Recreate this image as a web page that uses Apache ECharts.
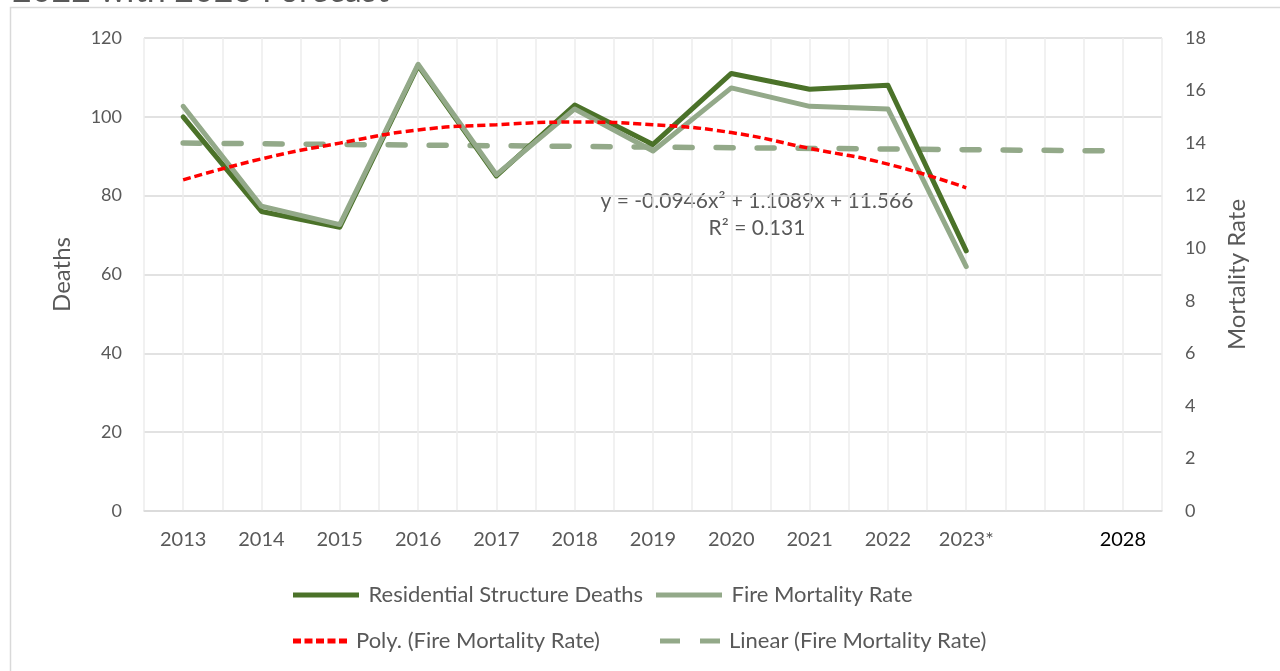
<!DOCTYPE html>
<html>
<head>
<meta charset="utf-8">
<script src="https://cdn.jsdelivr.net/npm/echarts@6/dist/echarts.min.js"></script>
<style>
  html, body { margin: 0; padding: 0; background: #fff; }
  #chart { width: 1280px; height: 671px; }
</style>
</head>
<body>
<div id="chart"></div>
<script>
// categories (blank slot between the forecast year and 2028)
var years = ["2013", "2014", "2015", "2016", "2017", "2018", "2019", "2020", "2021", "2022", "2023*", "", "2028"];
// deaths, left axis
var deaths = [100, 76, 72, 113, 85, 103, 93, 111, 107, 108, 66, null, null];
// fire mortality rate, right axis
var mortality = [15.4, 11.6, 10.9, 17.0, 12.8, 15.3, 13.7, 16.1, 15.4, 15.3, 9.3, null, null];
// trendlines
var polyTrend = [12.6, 13.4, 14.0, 14.5, 14.7, 14.8, 14.7, 14.4, 13.8, 13.2, 12.3, null, null];
var linearTrend = [14.0, null, null, null, null, null, null, null, null, null, null, null, 13.7];
// half-category slots, used only for the vertical gridlines
var halfSlots = [];
for (var i = 0; i < years.length * 2; i++) halfSlots.push("");

var font = "Lato, 'Open Sans', sans-serif";
var grey = "#595959";
var darkGreen = "#4b7229";
var lightGreen = "#93a989";

// legend icons drawn as filled paths (solid bar, short dashes, long dashes)
var solidIcon = "path://M0,0h66v5h-66z";
var dotIcon = "path://M0,0h8v5h-8zM11.5,0h8v5h-8zM23,0h8v5h-8zM34.5,0h8v5h-8zM46,0h8v5h-8z";
var dashIcon = "path://M0,0h20v5h-20zM40,0h20v5h-20z";

function legendItem(name, left, top, width, icon, color) {
  return {
    left: left,
    top: top,
    padding: 0,
    itemWidth: width,
    itemHeight: 5,
    textStyle: { color: grey, fontSize: 22, fontFamily: font, padding: [0, 0, 0, 4] },
    data: [{ name: name, icon: icon, itemStyle: { color: color } }]
  };
}

var chart = echarts.init(document.getElementById("chart"));

var option = {
  animation: false,
  textStyle: { fontFamily: font },
  grid: { left: 144, right: 118, top: 38, bottom: 160, containLabel: false },
  graphic: [
    {
      type: "rect",
      shape: { x: 10.5, y: 7.5, width: 1400, height: 800 },
      style: { fill: "none", stroke: "#d9d9d9", lineWidth: 1.5 },
      silent: true
    },
    {
      type: "text",
      left: 12,
      top: -26,
      style: { text: "2022 with 2023 Forecast", fill: grey, font: "34px " + font }
    },
    {
      type: "text",
      x: 757,
      y: 201,
      style: {
        text: "y = -0.0946x\u00b2 + 1.1089x + 11.566",
        fill: grey,
        font: "21px " + font,
        textAlign: "center",
        textVerticalAlign: "middle"
      }
    },
    {
      type: "text",
      x: 757,
      y: 228,
      style: {
        text: "R\u00b2 = 0.131",
        fill: grey,
        font: "21px " + font,
        textAlign: "center",
        textVerticalAlign: "middle"
      }
    }
  ],
  legend: [
    legendItem("Residential Structure Deaths", 293, 584, 67, solidIcon, darkGreen),
    legendItem("Fire Mortality Rate", 656, 584, 67, solidIcon, lightGreen),
    legendItem("Poly. (Fire Mortality Rate)", 293, 630, 54, dotIcon, "#ff0000"),
    legendItem("Linear (Fire Mortality Rate)", 660, 630, 60, dashIcon, lightGreen)
  ],
  xAxis: [
    {
      type: "category",
      data: years.map(function (y) {
        return y === "2028" ? { value: y, textStyle: { color: "#000" } } : y;
      }),
      boundaryGap: true,
      axisLine: { show: true, lineStyle: { color: "#d9d9d9", width: 1.5 } },
      axisTick: { show: false },
      axisLabel: { color: grey, fontSize: 20, margin: 19, interval: 0 },
      splitLine: { show: false }
    },
    {
      type: "category",
      data: halfSlots,
      position: "bottom",
      axisLine: { show: false },
      axisTick: { show: false },
      axisLabel: { show: false },
      splitLine: { show: true, interval: 0, lineStyle: { color: "#ececec", width: 1.5 } }
    }
  ],
  yAxis: [
    {
      type: "value",
      min: 0,
      max: 120,
      interval: 20,
      name: "Deaths",
      nameLocation: "middle",
      nameGap: 70,
      nameRotate: 90,
      nameTextStyle: { color: grey, fontSize: 24, fontFamily: font },
      axisLine: { show: false },
      axisTick: { show: false },
      axisLabel: { color: grey, fontSize: 18, margin: 22 },
      splitLine: { lineStyle: { color: "#d9d9d9", width: 1.5 } }
    },
    {
      type: "value",
      position: "right",
      min: 0,
      max: 18,
      interval: 2,
      name: "Mortality Rate",
      nameLocation: "middle",
      nameGap: 63,
      nameRotate: 90,
      nameTextStyle: { color: grey, fontSize: 24, fontFamily: font },
      axisLine: { show: false },
      axisTick: { show: false },
      axisLabel: { color: grey, fontSize: 18, margin: 23 },
      splitLine: { show: false }
    }
  ],
  series: [
    {
      name: "Linear (Fire Mortality Rate)",
      type: "line",
      yAxisIndex: 1,
      data: linearTrend,
      connectNulls: true,
      symbol: "none",
      color: lightGreen,
      lineStyle: { color: lightGreen, width: 5.5, type: [17, 24], cap: "round" },
      z: 2
    },
    {
      name: "Residential Structure Deaths",
      type: "line",
      yAxisIndex: 0,
      data: deaths,
      symbol: "none",
      color: darkGreen,
      lineStyle: { color: darkGreen, width: 5, cap: "round", join: "round" },
      z: 3
    },
    {
      name: "Fire Mortality Rate",
      type: "line",
      yAxisIndex: 1,
      data: mortality,
      symbol: "none",
      color: lightGreen,
      lineStyle: { color: lightGreen, width: 5, cap: "round", join: "round" },
      z: 4
    },
    {
      name: "Poly. (Fire Mortality Rate)",
      type: "line",
      yAxisIndex: 1,
      data: polyTrend,
      smooth: true,
      symbol: "none",
      color: "#ff0000",
      lineStyle: { color: "#ff0000", width: 3.5, type: [8, 4] },
      z: 5
    }
  ]
};

chart.setOption(option);
</script>
</body>
</html>
